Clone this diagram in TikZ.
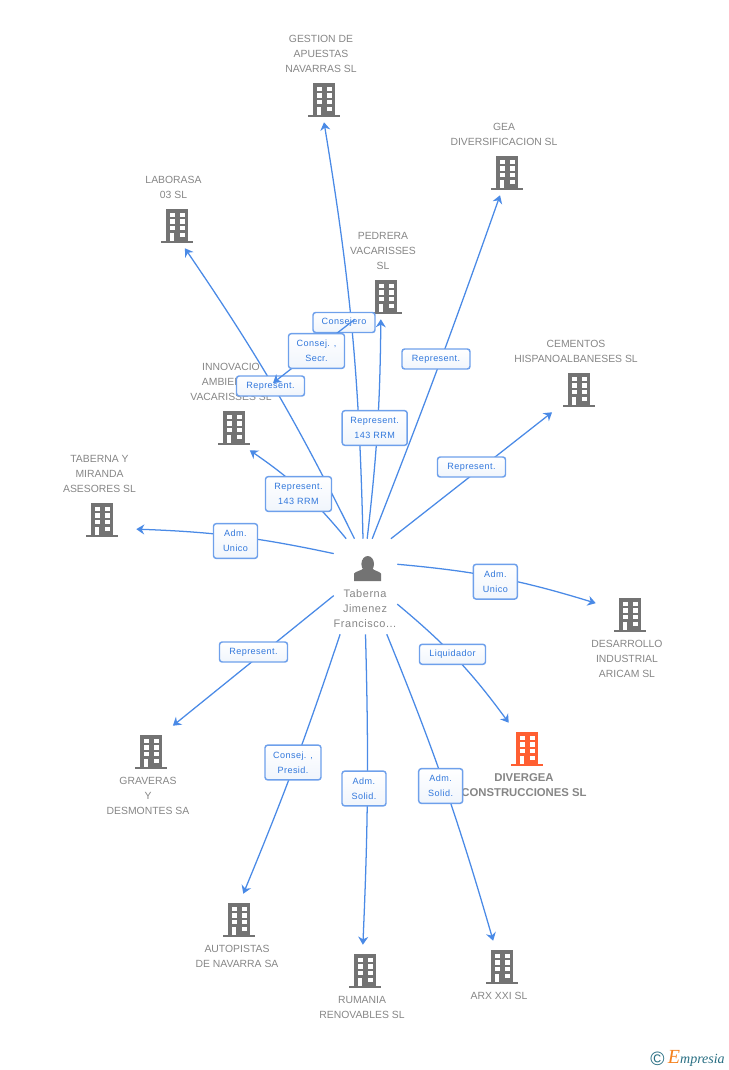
\documentclass[tikz,border=0pt]{standalone}
\usepackage{fontspec}
\setmainfont{Liberation Sans}
\newfontfamily\rolefont[LetterSpace=5]{Liberation Sans}
\newfontfamily\logofont{Liberation Serif}
\usetikzlibrary{arrows.meta, positioning}
\definecolor{edgecolor}{RGB}{74, 138, 230}
\definecolor{rolecolor}{RGB}{110, 160, 235}
\definecolor{roletext}{RGB}{50, 120, 220}
\definecolor{rolefill}{RGB}{240, 245, 252}
\definecolor{namecolor}{RGB}{134, 134, 134}
\definecolor{iconcolor}{RGB}{115, 115, 115}
\definecolor{activecolor}{RGB}{255, 95, 50}
\definecolor{logoteal}{RGB}{40, 110, 130}
\definecolor{logoorange}{RGB}{245, 130, 30}
\newcommand{\buildingicon}[1]{%
  \begin{scope}[shift={(path picture bounding box.center)}]
    \fill[#1] (-11,-15) rectangle (11,17);
    \fill[#1] (-16,17) rectangle (16,19);
    \foreach \wy in {-11.3,-4.7,2} {
      \fill[white] (-7.3,\wy) rectangle ++(5,4.4);
      \fill[white] (2.7,\wy) rectangle ++(5,4.4);
    }
    \fill[white] (-7.3,8.7) rectangle (-2.6,17);
    \fill[white] (2.7,8.7) rectangle ++(5,4.4);
  \end{scope}}
\begin{document}
\begin{tikzpicture}[
    x=0.75pt, y=-0.75pt,
    bldg/.style={minimum width=51pt, minimum height=36pt, inner sep=0pt, path picture={\buildingicon{#1}}},
    compname/.style={text=namecolor, align=center, inner sep=0pt, font=\fontsize{7.8}{11.25}\selectfont},
    boldname/.style={compname, font=\fontsize{8.5}{11.25}\selectfont\bfseries},
    hubname/.style={compname, font=\rolefont\fontsize{8.2}{11.25}\selectfont},
    rolebox/.style={draw=rolecolor, line width=1.1pt, rounded corners=2pt, top color=white, bottom color=rolefill, text=roletext, align=center, inner sep=0pt, minimum width=#1*0.75pt, minimum height=15pt, font=\rolefont\fontsize{6.8}{11.25}\selectfont},
    rolebox2/.style={rolebox=#1, minimum height=26pt},
    rolelink/.style={draw=edgecolor, line width=0.95pt, -{Stealth[length=6pt, width=7.5pt]}}
]
    \useasboundingbox (0,0) rectangle (728,1070);

    % Companies
    \node[bldg=iconcolor] (gestion) at (324,98) {};
    \node[bldg=iconcolor] (gea) at (507,171) {};
    \node[bldg=iconcolor] (laborasa) at (177,224) {};
    \node[bldg=iconcolor] (pedrera) at (386,295) {};
    \node[bldg=iconcolor] (cementos) at (579,388) {};
    \node[bldg=iconcolor] (innovacio) at (234,426) {};
    \node[bldg=iconcolor] (miranda) at (102,518) {};
    \node[bldg=iconcolor] (desarrollo) at (630,613) {};
    \node[bldg=iconcolor] (graveras) at (151,750) {};
    \node[bldg=iconcolor] (autopistas) at (239,918) {};
    \node[bldg=iconcolor] (rumania) at (365,969) {};
    \node[bldg=iconcolor] (arx) at (502,965) {};
    \node[bldg=activecolor] (divergea) at (527,747) {};

    % Names
    \node[compname] (gestionname) at (321,54) {GESTION DE\\APUESTAS\\NAVARRAS SL};
    \node[compname] (geaname) at (504,134.5) {GEA\\DIVERSIFICACION SL};
    \node[compname] (laborasaname) at (173.5,187.5) {LABORASA\\03 SL};
    \node[compname] (pedreraname) at (383,251) {PEDRERA\\VACARISSES\\SL};
    \node[compname] (cementosname) at (576,351.5) {CEMENTOS\\HISPANOALBANESES SL};
    \node[compname] (innovacioname) at (231,382) {INNOVACIO\\AMBIEN\phantom{TAL}\\VACARISSES SL};
    \node[compname] (mirandaname) at (99.5,474) {TABERNA Y\\MIRANDA\\ASESORES SL};
    \node[compname] (desarrolloname) at (627,659) {DESARROLLO\\INDUSTRIAL\\ARICAM SL};
    \node[compname] (gravername) at (148,796) {GRAVERAS\\Y\\DESMONTES SA};
    \node[compname] (autopistasname) at (237,956.5) {AUTOPISTAS\\DE NAVARRA SA};
    \node[compname] (rumanianame) at (362,1007.5) {RUMANIA\\RENOVABLES SL};
    \node[compname] (arxname) at (499,996) {ARX XXI SL};
    \node[boldname] (divergeaname) at (524,785.5) {DIVERGEA\\CONSTRUCCIONES SL};

    % Person
    \node[minimum width=47.25pt, minimum height=71.25pt, inner sep=0pt] (hub) at (365.5,586.5) {};
    \fill[iconcolor] (367.7,564) ellipse (6.3 and 8);
    \fill[iconcolor] (354,581) -- (354,573.5) .. controls (356,571) and (361,571) .. (364,568) -- (372,568) .. controls (374,571) and (379,571) .. (381,573.5) -- (381,581) -- cycle;
    \node[hubname] (hubname) at (365,609) {Taberna\\Jimenez\\Francisco...};
    \coordinate (secrtip) at (273,383);

    % Connections
    \draw[rolelink] (hub.93) to[bend right=4] (gestion.south);
    \draw[rolelink] (hub.82) to[bend right=1] (gea.254);
    \draw[rolelink] (hub.103.6) to[bend right=4] (laborasa.288.4);
    \draw[rolelink] (hub.88) to[bend right=3] (pedrera.258);
    \draw[rolelink] (hub.62.7) -- (cementos.222.7);
    \draw[rolelink] (hub.112.3) to[bend right=8] (innovacio.303.7);
    \draw[rolelink] (hub.134) to[bend right=5] (miranda.-18);
    \draw[rolelink] (hub.35.5) to[bend left=6] (desarrollo.164);
    \draw[rolelink] (hub.196.8) -- (graveras.48.8);
    \draw[rolelink] (hub.-29) to[bend left=7] (divergea.127.6);
    \draw[rolelink] (hub.242.7) to[bend left=2] (autopistas.80.5);
    \draw[rolelink] (hub.270) to[bend left=2] (rumania.95);
    \draw[rolelink] (hub.294.4) to[bend left=3] (arx.110);

    % Roles
    \node[rolebox=68] (rolegea) at (436,359) {Represent.};
    \node[rolebox=68] (rolecementos) at (471.5,467) {Represent.};
    \node[rolebox2=65] (rolepedrera) at (374.7,428) {Represent.\\143 RRM};
    \node[rolebox2=66] (roleinnovacio) at (298.5,494) {Represent.\\143 RRM};
    \node[rolebox2=44] (rolemiranda) at (235.5,541) {Adm.\\Unico};
    \node[rolebox2=44] (roledesarrollo) at (495.3,581.7) {Adm.\\Unico};
    \node[rolebox=68] (rolegraveras) at (253.5,652) {Represent.};
    \node[rolebox=66] (roledivergea) at (452.5,654.3) {Liquidador};
    \node[rolebox2=56] (roleautopistas) at (293,762.5) {Consej. ,\\Presid.};
    \node[rolebox2=44] (rolerumania) at (364,788.5) {Adm.\\Solid.};
    \node[rolebox2=44] (rolearx) at (440.7,786) {Adm.\\Solid.};
    \node[rolebox=68] (rolelaborasa) at (270.5,386) {Represent.};
    \node[rolebox=62] (rolegestion) at (344,322.5) {Consejero};
    \draw[rolelink] (pedrera) -- (secrtip);
    \node[rolebox2=56] (rolesecr) at (316.5,351) {Consej. ,\\Secr.};

    % Logo
    \node[text=logoteal, inner sep=0pt, font=\fontsize{14.5}{14.5}\selectfont] (logoc) at (657.5,1059) {©};
    \node[anchor=base east, inner sep=0pt, font=\logofont\itshape\fontsize{10.5}{12}\selectfont] (logotext) at (725,1063) {\textcolor{logoorange}{\fontsize{15}{12}\selectfont E}\textcolor{logoteal}{mpresia}};
\end{tikzpicture}
\end{document}
